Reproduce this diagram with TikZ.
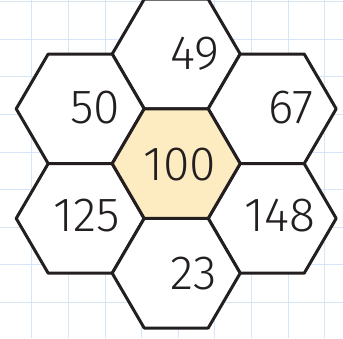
\documentclass[tikz,border=0pt]{standalone}
\usepackage{fontspec}
\setmainfont{Fira Sans}[UprightFont=* Light]
\definecolor{gridblue}{HTML}{D6E6F6}
\definecolor{ink}{HTML}{231F20}
\definecolor{honey}{HTML}{FDECC1}
\tikzset{
  cell/.style={draw=ink, line width=3pt, line join=round},
  num/.style={inner sep=0pt, text=ink, font=\fontsize{48}{48}\selectfont},
}
\newcommand\hexcell[4]{% name, x, y, fill
  \coordinate (#1) at (#2,#3);
  \draw[cell, fill=#4] ($(#1)+(-64,0)$) -- ($(#1)+(-32,-54.8)$) -- ($(#1)+(32,-54.8)$) -- ($(#1)+(64,0)$) -- ($(#1)+(32,54.8)$) -- ($(#1)+(-32,54.8)$) -- cycle;
}
\usetikzlibrary{calc}
\begin{document}
\begin{tikzpicture}[x=1pt,y=-1pt]
\useasboundingbox (0,0) rectangle (343,338);
\fill[white] (0,0) rectangle (343,338);
\foreach \k in {0,...,8} {
  \draw[gridblue, line width=1pt] ({31.8+36.6*\k},0) -- ({31.8+36.6*\k},338);
  \draw[gridblue, line width=1pt] (0,{1.7+37.6*\k}) -- (343,{1.7+37.6*\k});
}
\hexcell{h49}{176.2}{54.0}{white}
\hexcell{h50}{80.2}{108.8}{white}
\hexcell{h67}{272.2}{108.8}{white}
\hexcell{h125}{80.2}{218.4}{white}
\hexcell{h148}{272.2}{218.4}{white}
\hexcell{h23}{176.2}{273.2}{white}
\hexcell{h100}{176.2}{163.6}{honey}
\node[num] (t49) at (194.5,54) {49};
\node[num] (t50) at (95,108) {50};
\node[num] (t67) at (291,107.5) {67};
\node[num] (t100) at (179.5,164.7) {100};
\node[num] (t125) at (87,216) {125};
\node[num] (t148) at (280,216) {148};
\node[num] (t23) at (193.5,273.7) {23};
\end{tikzpicture}
\end{document}
